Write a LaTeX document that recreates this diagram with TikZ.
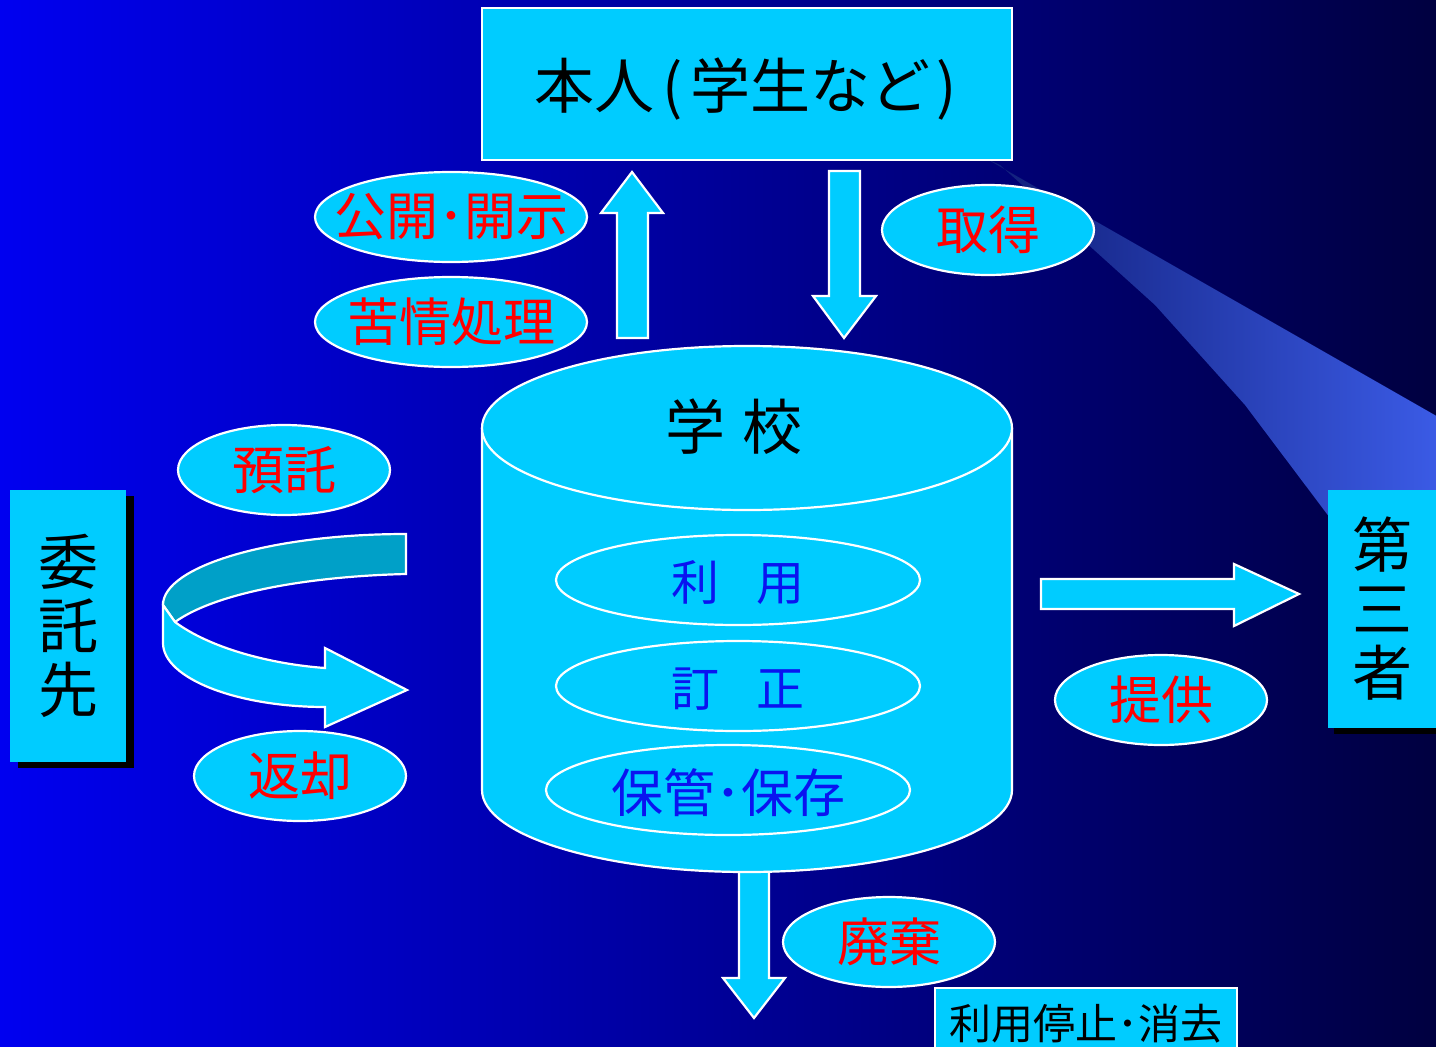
\documentclass[tikz,border=0pt]{standalone}
\usepackage{fontspec}
\setmainfont{Noto Sans CJK JP}
\usetikzlibrary{shapes.geometric}
\definecolor{cy}{HTML}{00CCFF}
\definecolor{cyd}{HTML}{00A0C8}
\definecolor{bgL}{HTML}{0000F0}
\definecolor{bgR}{HTML}{000040}
\definecolor{beamL}{HTML}{101E78}
\definecolor{beamR}{HTML}{3B5BE6}
\definecolor{redt}{HTML}{FF0000}
\definecolor{bluet}{HTML}{0A14F0}
\begin{document}
\begin{tikzpicture}[x=1pt,y=-1pt,
  outl/.style={draw=white, line width=2.2pt, line join=miter},
  lab/.style={ellipse, fill=cy, outl, inner sep=0pt, minimum width=212pt, minimum height=90pt},
  labtext/.style={text=redt, inner sep=0pt, font=\fontsize{52}{56}\selectfont},
  inlab/.style={ellipse, fill=cy, outl, inner sep=0pt, minimum width=364pt, minimum height=90pt},
  intext/.style={text=bluet, inner sep=0pt, font=\fontsize{48}{52}\selectfont},
  blockarrow/.style={fill=cy, outl},
  sidebox/.style={fill=cy, inner sep=0pt, minimum width=116pt, minimum height=272pt, align=center, font=\fontsize{60}{64}\selectfont},
  shadowbox/.style={fill=black}]
\clip (0,0) rectangle (1436,1047);
\shade[left color=bgL, right color=bgR] (0,0) rectangle (1436,1047);
% beam
\shade[left color=beamL, right color=beamR] (985,158) -- (1440,418) -- (1440,600) -- (1330,600) -- (1330,518) -- (1245,405) -- (1155,305) -- (1000,165) -- cycle;
% top box
\node[fill=cy, outl, inner sep=0pt, minimum width=530pt, minimum height=152pt] (honnin) at (747,84) {};
\node[inner sep=0pt, font=\fontsize{60}{64}\selectfont] at (746,89) {本人\hspace{8pt}(\hspace{7pt}学生など\hspace{7pt})};
% up / down arrows
\draw[blockarrow] (617,338) -- (617,213) -- (601,213) -- (632,172) -- (663,213) -- (648,213) -- (648,338) -- cycle;
\draw[blockarrow] (829,171) -- (860,171) -- (860,296) -- (876,296) -- (844,338) -- (813,296) -- (829,296) -- cycle;
\node[lab, minimum width=272pt] (kokai) at (451,217) {};
\node[labtext] at (kokai) {公開･開示};
\node[lab, minimum width=272pt] (kujo) at (451,322) {};
\node[labtext] at (kujo) {苦情処理};
\node[lab] (shutoku) at (988,230) {};
\node[labtext] at (shutoku) {取得};
% bottom arrow
\draw[blockarrow] (739,860) -- (769,860) -- (769,978) -- (785,978) -- (754,1018) -- (723,978) -- (739,978) -- cycle;
% cylinder
\fill[cy] (482,428) rectangle (1012,790);
\fill[cy] (747,790) ellipse [x radius=265pt, y radius=82pt];
\draw[outl] (482,428) -- (482,790) .. controls (482,835) and (601,872) .. (747,872) .. controls (893,872) and (1012,835) .. (1012,790) -- (1012,428);
\draw[outl, fill=cy] (747,428) ellipse [x radius=265pt, y radius=82pt];
\node[font=\fontsize{60}{64}\selectfont] (gakko) at (734,427) {学\hspace{4pt} 校};
\node[inlab] (riyo) at (738,580) {};
\node[intext] at (738,583) {利\hspace{38pt}用};
\node[inlab] (teisei) at (738,686) {};
\node[intext] at (738,689) {訂\hspace{38pt}正};
\node[inlab] (hokan) at (728,790) {};
\node[intext, font=\fontsize{52}{56}\selectfont] at (728,793) {保管･保存};
% haiki
\node[lab] (haiki) at (889,942) {};
\node[labtext] at (haiki) {廃棄};
\node[fill=cy, outl, inner sep=0pt, minimum width=302pt, minimum height=72pt, font=\fontsize{42}{46}\selectfont] (teishi) at (1086,1024) {利用停止･消去};
% left side
\fill[shadowbox] (18,496) rectangle (134,768);
\node[sidebox] (itaku) at (68,626) {委\\託\\先};
\node[lab] (yotaku) at (284,470) {};
\node[labtext] at (yotaku) {預託};
\node[lab] (henkyaku) at (300,776) {};
\node[labtext] at (henkyaku) {返却};
\draw[outl, fill=cyd] (406,534) .. controls (272,534) and (163,566) .. (163,605) -- (175,622) .. controls (220,590) and (320,576) .. (406,574) -- cycle;
\draw[outl, fill=cy] (163,605) -- (163,643) .. controls (163,678) and (236,707) .. (325,707) -- (325,727) -- (407,690) -- (325,648) -- (325,668) .. controls (270,664) and (210,648) .. (175,622) -- cycle;
% right side
\draw[blockarrow] (1041,579) -- (1234,579) -- (1234,564) -- (1299,594) -- (1234,626) -- (1234,609) -- (1041,609) -- cycle;
\node[lab] (teikyo) at (1161,700) {};
\node[labtext] at (teikyo) {提供};
\fill[shadowbox] (1334,496) rectangle (1450,734);
\node[sidebox, minimum height=238pt] (daisan) at (1386,609) {\hspace*{-8pt}第\\\hspace*{-8pt}三\\\hspace*{-8pt}者};
\end{tikzpicture}
\end{document}
